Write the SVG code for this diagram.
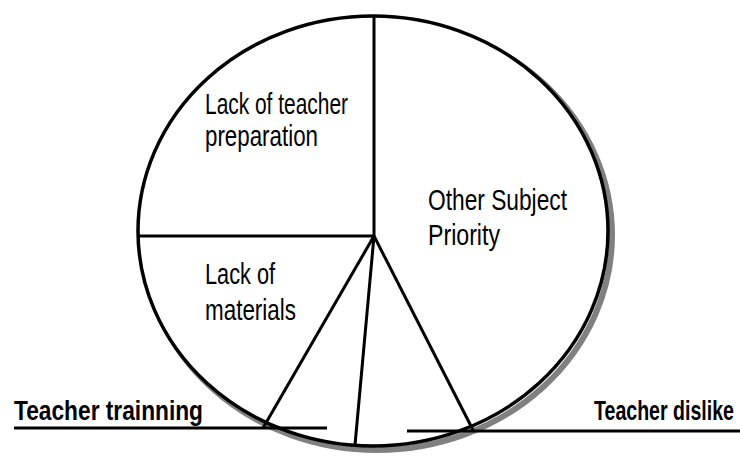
<svg xmlns="http://www.w3.org/2000/svg" width="740" height="456" viewBox="0 0 740 456">
<style>
.lbl{font-family:"Liberation Sans Narrow","Liberation Sans",Arial,sans-serif;font-size:30px;fill:#000;}
.key{font-family:"Liberation Sans Narrow","Liberation Sans",Arial,sans-serif;font-size:27px;font-weight:bold;fill:#000;}
.ln{stroke:#000;stroke-width:3;fill:none;stroke-linecap:butt;}
</style>
<rect width="740" height="456" fill="#fff"/>
<g id="pie">
<ellipse cx="377" cy="235" rx="235" ry="215" fill="none" stroke="#808080" stroke-width="6"/>
<ellipse cx="373" cy="231" rx="235" ry="215" fill="#fff" stroke="#000" stroke-width="3.5"/>
</g>
<g id="connectors">
<line class="ln" x1="374" y1="16" x2="374" y2="236"/>
<line class="ln" x1="139" y1="236" x2="374" y2="236"/>
<line class="ln" x1="374" y1="236" x2="263" y2="428"/>
<line class="ln" x1="374" y1="236" x2="355" y2="445"/>
<line class="ln" x1="374" y1="236" x2="473" y2="430"/>
<line class="ln" x1="14" y1="428" x2="327" y2="428"/>
<line class="ln" x1="407" y1="431" x2="740" y2="431"/>
</g>
<g id="slice-prep">
<text class="lbl" x="205" y="114" textLength="143" lengthAdjust="spacingAndGlyphs">Lack of teacher</text>
<text class="lbl" x="205" y="146" textLength="113" lengthAdjust="spacingAndGlyphs">preparation</text>
</g>
<g id="slice-other">
<text class="lbl" x="428" y="210" textLength="139" lengthAdjust="spacingAndGlyphs">Other Subject</text>
<text class="lbl" x="428" y="245" textLength="72" lengthAdjust="spacingAndGlyphs">Priority</text>
</g>
<g id="slice-materials">
<text class="lbl" x="205" y="284" textLength="70" lengthAdjust="spacingAndGlyphs">Lack of</text>
<text class="lbl" x="205" y="320" textLength="91" lengthAdjust="spacingAndGlyphs">materials</text>
</g>
<g id="label-training">
<text class="key" transform="translate(14,420) scale(0.7,1)" x="0" y="0" textLength="270" lengthAdjust="spacingAndGlyphs">Teacher trainning</text>
</g>
<g id="label-dislike">
<text class="key" transform="translate(734,420) scale(0.7,1)" x="0" y="0" text-anchor="end" textLength="200" lengthAdjust="spacingAndGlyphs">Teacher dislike</text>
</g>
</svg>
